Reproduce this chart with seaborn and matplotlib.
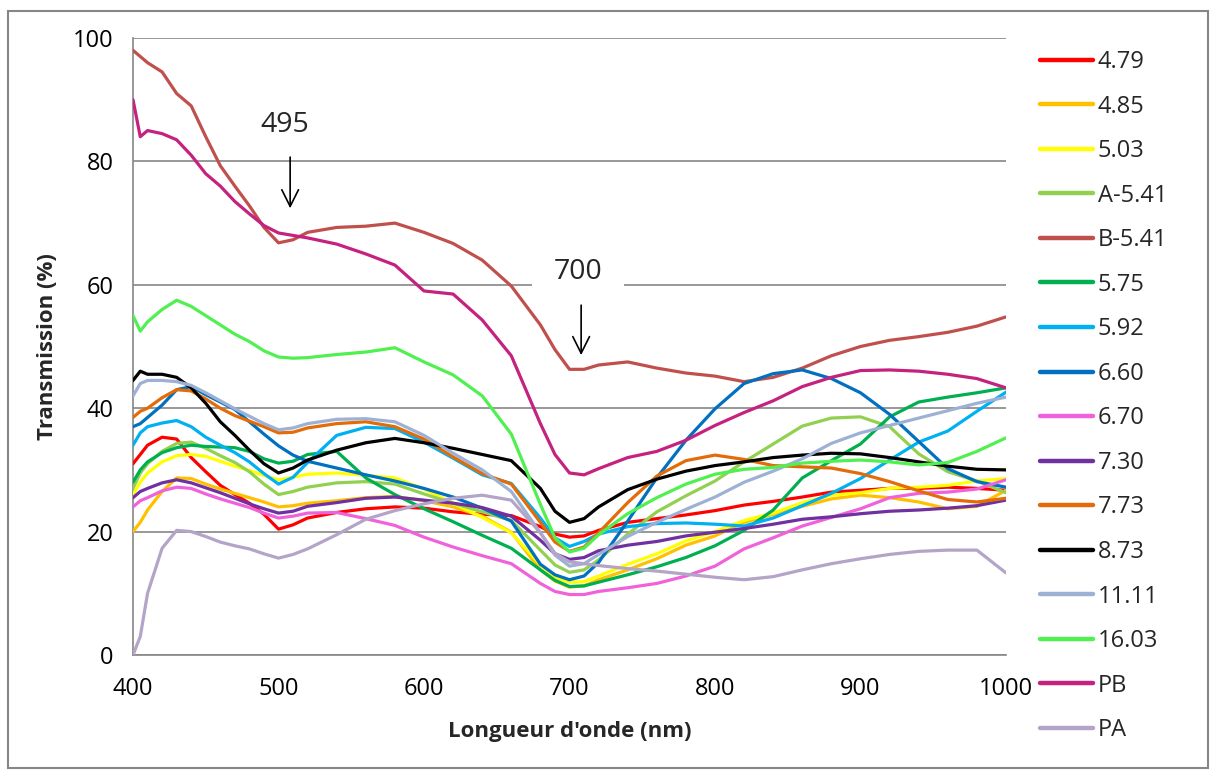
import matplotlib
matplotlib.use("Agg")
import matplotlib.pyplot as plt
from matplotlib.lines import Line2D
from matplotlib.patches import Rectangle
import pandas as pd
import seaborn as sns

# Wavelength sampling (nm)
wavelengths = [400, 405, 410, 420, 430, 440, 450, 460, 470, 480, 490, 500, 510, 520,
               540, 560, 580, 600, 620, 640, 660, 680, 690, 700, 710, 720, 740, 760,
               780, 800, 820, 840, 860, 880, 900, 920, 940, 960, 980, 1000]

# Transmission (%) of each sample
t_479 = [31, 32.5, 34, 35.3, 35, 32, 29.7, 27.5, 26, 24.6, 22.8, 20.4, 21.1, 22.2,
         23.1, 23.7, 24, 23.8, 23.2, 22.8, 22.6, 20.8, 19.6, 19.1, 19.3, 20.2, 21.5, 22.1,
         22.7, 23.4, 24.3, 24.9, 25.6, 26.4, 26.7, 27, 27, 27.2, 27, 26.7]
t_485 = [20, 21.5, 23.5, 26.5, 28.7, 28.6, 27.7, 26.9, 26.2, 25.5, 24.8, 24, 24.2, 24.6,
         25, 25.5, 25.7, 25, 24, 22.5, 19.9, 13.8, 12, 11, 11.2, 12.2, 13.8, 15.6,
         17.8, 19.3, 21.5, 22.8, 24.1, 25.3, 25.9, 25.5, 24.8, 23.7, 24.1, 26.7]
t_503 = [26, 28, 29.5, 31.3, 32.3, 32.5, 32.2, 31.4, 30.6, 29.9, 29.1, 28.4, 28.8, 29.3,
         29.5, 29.1, 28.7, 26.9, 24.6, 22.3, 19.8, 14.6, 12.6, 11.8, 11.9, 12.8, 14.7, 16.4,
         18.5, 20, 21.8, 23, 24.7, 25.9, 26.3, 27, 27.2, 27.5, 28.2, 28.6]
t_a541 = [27, 29.5, 31, 33, 34.3, 34.5, 33.5, 32.3, 31.2, 29.7, 27.7, 26, 26.5, 27.2,
          27.9, 28.1, 27.7, 26.1, 24.6, 23.2, 21.8, 17, 14.6, 13.4, 13.8, 15.4, 19.6, 23.2,
          25.8, 28.2, 31.3, 34.2, 37.1, 38.4, 38.6, 37, 32.6, 29.7, 28.2, 26.3]
t_b541 = [98, 97, 96, 94.5, 91, 89, 84, 79.3, 76, 72.8, 69.3, 66.8, 67.3, 68.5,
          69.3, 69.5, 70, 68.5, 66.7, 64, 59.8, 53.5, 49.5, 46.3, 46.3, 47, 47.5, 46.5,
          45.7, 45.2, 44.3, 45, 46.5, 48.5, 50, 51, 51.6, 52.3, 53.3, 54.8]
t_575 = [28, 30, 31.3, 32.8, 33.6, 34, 33.8, 33.7, 33.6, 33, 31.8, 31.1, 31.4, 32.5,
         33, 28.7, 26, 23.7, 21.6, 19.4, 17.3, 13.8, 12.1, 11.1, 11.2, 11.8, 13, 14.3,
         15.8, 17.7, 20.2, 23.5, 28.7, 31.5, 34.2, 38.6, 41, 41.8, 42.5, 43.3]
t_592 = [34, 36, 37, 37.6, 38, 37, 35.3, 34, 32.8, 31.3, 29.4, 27.7, 28.8, 31.2,
         35.6, 36.9, 36.7, 34.5, 31.9, 29.2, 27.8, 22.2, 19, 17.6, 18.4, 19.6, 20.8, 21.3,
         21.4, 21.2, 20.9, 22.2, 24.2, 26.2, 28.6, 31.6, 34.5, 36.3, 39.5, 42.6]
t_660 = [37, 37.5, 38.5, 40.5, 43, 43.5, 42.2, 41, 39.8, 37.8, 35.8, 33.9, 32.4, 31.4,
         30.3, 29.2, 28.2, 27, 25.6, 23.8, 21.7, 14.7, 13, 12.2, 12.8, 15, 21.7, 28.7,
         34.8, 39.9, 44, 45.6, 46.2, 44.8, 42.5, 39, 34.6, 30.2, 28.1, 27.2]
t_670 = [24, 25, 25.5, 26.6, 27.2, 27, 26.1, 25.3, 24.6, 23.9, 23, 22.2, 22.5, 23,
         23.1, 22.1, 21, 19.1, 17.5, 16.1, 14.8, 11.6, 10.3, 9.8, 9.8, 10.3, 10.9, 11.6,
         12.8, 14.4, 17.2, 19, 20.9, 22.3, 23.7, 25.5, 26.2, 26.4, 26.9, 28.4]
t_730 = [25.5, 26.5, 27, 27.9, 28.4, 27.9, 27.1, 26.3, 25.4, 24.5, 23.7, 23, 23.3, 24.1,
         24.7, 25.4, 25.6, 25.1, 24.6, 23.9, 22.5, 18.6, 16.4, 15.5, 15.8, 16.9, 17.8, 18.4,
         19.3, 19.9, 20.5, 21.2, 22, 22.4, 22.9, 23.3, 23.5, 23.8, 24.2, 25.1]
t_773 = [38.5, 39.5, 40, 41.7, 43, 42.8, 41.5, 40, 38.8, 37.9, 37, 36, 36.1, 36.8,
         37.5, 37.8, 37, 35, 32.1, 29.4, 27.7, 21.5, 18.3, 16.8, 17.5, 19.8, 24.7, 29,
         31.5, 32.4, 31.7, 30.7, 30.5, 30.3, 29.4, 28.1, 26.6, 25.2, 24.8, 25.4]
t_873 = [44.5, 46, 45.5, 45.5, 45, 43.3, 40.8, 37.8, 35.6, 33.2, 31, 29.5, 30.3, 31.6,
         33.2, 34.4, 35.1, 34.4, 33.5, 32.5, 31.5, 27, 23.3, 21.5, 22.1, 24, 26.8, 28.5,
         29.8, 30.7, 31.3, 32, 32.4, 32.7, 32.6, 32, 31.3, 30.6, 30.1, 30]
t_1111 = [42, 44, 44.5, 44.5, 44.3, 43.7, 42.5, 41.2, 39.9, 38.7, 37.5, 36.5, 36.8, 37.5,
          38.2, 38.3, 37.8, 35.6, 32.7, 30, 26.5, 19.8, 16.2, 14.4, 14.8, 16.3, 19.2, 21.5,
          23.6, 25.6, 28, 29.8, 31.8, 34.3, 36, 37.2, 38.4, 39.6, 40.8, 41.8]
t_1603 = [55, 52.5, 54, 56, 57.5, 56.5, 55, 53.5, 52, 50.8, 49.3, 48.3, 48.1, 48.2,
          48.7, 49.1, 49.8, 47.5, 45.4, 42, 35.8, 24.4, 19, 16.7, 17.3, 19.5, 22.9, 25.5,
          27.7, 29.3, 30.1, 30.4, 31.1, 31.4, 31.6, 31.3, 30.8, 31.2, 33, 35.2]
t_pb = [90, 84, 85, 84.5, 83.5, 81, 78, 76, 73.5, 71.5, 69.6, 68.4, 68, 67.6,
        66.6, 65, 63.2, 59, 58.5, 54.3, 48.5, 37.5, 32.5, 29.5, 29.2, 30.2, 32, 33,
        34.8, 37.2, 39.3, 41.2, 43.5, 45, 46.1, 46.2, 46, 45.5, 44.8, 43.3]
t_pa = [0, 3, 10, 17.3, 20.2, 20, 19.2, 18.3, 17.7, 17.2, 16.4, 15.7, 16.3, 17.2,
        19.5, 22, 23.4, 24.5, 25.4, 25.9, 25.1, 19.8, 16.5, 15.1, 14.8, 14.5, 14, 13.6,
        13.1, 12.6, 12.2, 12.7, 13.8, 14.8, 15.6, 16.3, 16.8, 17, 17, 13.3]

labels = ["4.79", "4.85", "5.03", "A-5.41", "B-5.41", "5.75", "5.92", "6.60",
          "6.70", "7.30", "7.73", "8.73", "11.11", "16.03", "PB", "PA"]
series = [t_479, t_485, t_503, t_a541, t_b541, t_575, t_592, t_660,
          t_670, t_730, t_773, t_873, t_1111, t_1603, t_pb, t_pa]
colors = ["#FF0000", "#FFC000", "#FFFF00", "#92D050", "#C0504D", "#00B050",
          "#00B0F0", "#0070C0", "#F062DA", "#7030A0", "#E36C09", "#000000",
          "#9DB1D5", "#50F050", "#C5227F", "#B3A4C8"]

df = pd.concat(
    [pd.DataFrame({"wl": wavelengths, "T": vals, "serie": name})
     for name, vals in zip(labels, series)],
    ignore_index=True,
)

sns.set_style("white")
plt.rcParams["font.family"] = ["Open Sans", "DejaVu Sans"]

grid_color = "#868686"
fig = plt.figure(figsize=(12.12, 7.72), dpi=100)
ax = fig.add_axes([133 / 1212, 1 - 655 / 772, (1006 - 133) / 1212, (655 - 38) / 772])

sns.lineplot(data=df, x="wl", y="T", hue="serie", hue_order=labels,
             palette=dict(zip(labels, colors)), sort=False, estimator=None,
             linewidth=2.3, legend=False, ax=ax, zorder=3)

ax.set_xlim(400, 1000)
ax.set_ylim(0, 100)
ax.set_xticks(range(400, 1001, 100))
ax.set_yticks(range(0, 101, 20))
ax.yaxis.grid(True, color=grid_color, linewidth=1.2, zorder=0)
ax.xaxis.grid(False)
ax.set_axisbelow(True)
for side in ("top", "right"):
    ax.spines[side].set_visible(False)
for side in ("left", "bottom"):
    ax.spines[side].set_color(grid_color)
    ax.spines[side].set_linewidth(1.2)
ax.tick_params(axis="both", which="major", direction="out", length=5, width=1.2,
               color=grid_color, labelsize=17, labelcolor="black")
ax.tick_params(axis="x", pad=11)
ax.tick_params(axis="y", pad=9)

ax.set_xlabel("Longueur d'onde (nm)", fontsize=16, fontweight="bold", labelpad=14)
ax.set_ylabel("Transmission (%)", fontsize=16, fontweight="bold", labelpad=11)

# Absorption band markers
ax.annotate("", xy=(508, 72.4), xytext=(508, 80.7),
            arrowprops=dict(arrowstyle="->,head_length=0.6,head_width=0.3",
                            color="black", lw=1.2, mutation_scale=20,
                            shrinkA=0, shrinkB=0), zorder=4)
ax.text(504.5, 85.9, "495", ha="center", va="center", fontsize=20.5, zorder=4)
ax.annotate("", xy=(708, 48.6), xytext=(708, 56.7),
            arrowprops=dict(arrowstyle="->,head_length=0.6,head_width=0.3",
                            color="black", lw=1.2, mutation_scale=20,
                            shrinkA=0, shrinkB=0), zorder=4)
ax.text(705.8, 62.1, "700", ha="center", va="center", fontsize=20.5, zorder=2,
        bbox=dict(boxstyle="square,pad=0.75", fc="white", ec="none"))

handles = [Line2D([], [], color=c, lw=3.2) for c in colors]
fig.legend(handles, labels, loc="upper left", bbox_to_anchor=(1040 / 1212, 1 - 50 / 772),
           frameon=False, fontsize=17, handlelength=2.25, handletextpad=0.2,
           labelspacing=0.87, borderaxespad=0, borderpad=0)

fig.add_artist(Rectangle((8 / 1212, 1 - 768 / 772), 1200 / 1212, 757 / 772,
                         transform=fig.transFigure, fill=False,
                         edgecolor=grid_color, linewidth=1.5))

fig.savefig("out.png", dpi=100, facecolor="white")
